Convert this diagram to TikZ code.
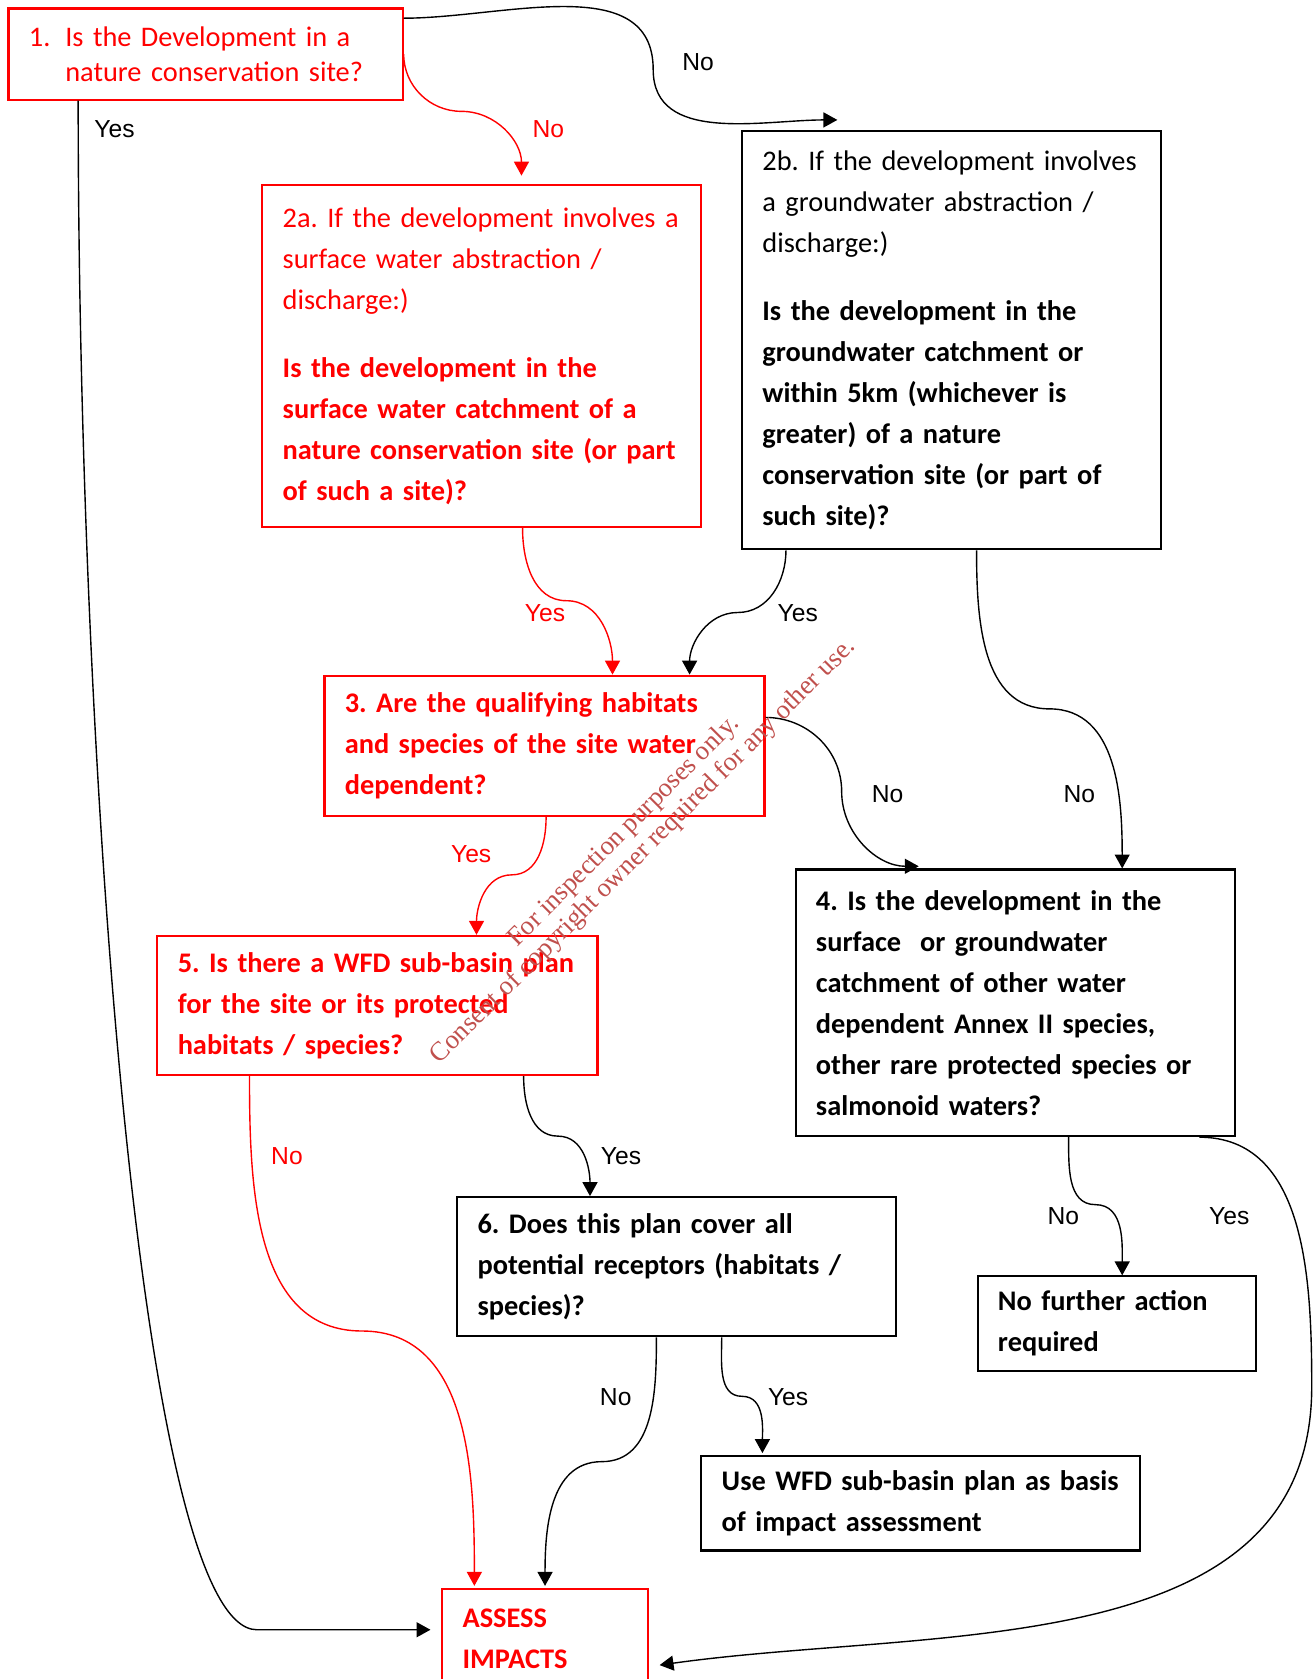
\documentclass[tikz,border=0pt]{standalone}
\usepackage{fontspec}
\setmainfont{Carlito}
\newfontfamily\arialfont{Liberation Sans}
\newfontfamily\wmfont{Liberation Serif}
\usetikzlibrary{shapes,arrows.meta}
\usetikzlibrary{calc}
\definecolor{myred}{RGB}{255, 0, 0}
\definecolor{wmred}{RGB}{192, 80, 77}
\frenchspacing

\begin{document}
\begin{tikzpicture}[x=0.5pt,y=0.5pt]

\tikzstyle{red_block} = [draw=myred, text=myred, line width=1pt, inner xsep=9.5pt, align=left,
font=\fontsize{13.25}{19.15}\selectfont]
\tikzstyle{black_block} = [draw=black, text=black, line width=1pt, inner xsep=9.5pt, align=left,
font=\fontsize{13.25}{19.15}\selectfont]
\tikzstyle{lbl} = [font=\arialfont\fontsize{11.5}{13}\selectfont, inner sep=0pt]
\tikzstyle{arr} = [-{Triangle[length=6.5pt,width=7pt]}, line width=0.65pt]

\useasboundingbox (0,0) rectangle (1228,-1568);
\clip (0,0) rectangle (1228,-1568);

% question boxes
\node [red_block, text width=165pt, minimum height=42.5pt, font=\fontsize{13.25}{16.5}\selectfont] (q1) at (192,-50.5)
{\makebox[17pt][l]{1.}Is the Development in a\\\hspace*{17pt}nature conservation site?};

\node [red_block, text width=186pt, minimum height=159.5pt] (q2a) at (450,-332.5)
{2a. If the development involves a\\surface water abstraction /\\discharge:)\\[12.5pt]
\bfseries Is the development in the\\surface water catchment of a\\nature conservation site (or part\\of such a site)?};

\node [black_block, text width=176.5pt, minimum height=195.5pt] (q2b) at (888.5,-317.5)
{2b. If the development involves\\a groundwater abstraction /\\discharge:)\\[12.5pt]
\bfseries Is the development in the\\groundwater catchment or\\within 5km (whichever is\\greater) of a nature\\conservation site (or part of\\such site)?};

\node [red_block, text width=186.5pt, minimum height=65.5pt] (q3) at (508.5,-696.5)
{\bfseries 3. Are the qualifying habitats\\and species of the site water\\dependent?};

\node [black_block, text width=186pt, minimum height=124.5pt] (q4) at (948,-936.5)
{\bfseries 4. Is the development in the\\surface\ \ or groundwater\\catchment of other water\\dependent Annex II species,\\other rare protected species or\\salmonoid waters?};

\node [red_block, text width=186.5pt, minimum height=65pt] (q5) at (352.5,-939)
{\bfseries 5. Is there a WFD sub-basin plan\\for the site or its protected\\habitats / species?};

\node [black_block, text width=186pt, minimum height=65pt] (q6) at (632,-1183)
{\bfseries 6. Does this plan cover all\\potential receptors (habitats /\\species)?};

% outcomes
\node [black_block, text width=111pt, minimum height=44pt] (qN) at (1043,-1236)
{\bfseries No further action\\required};

\node [black_block, text width=186pt, minimum height=44pt] (qU) at (860,-1404)
{\bfseries Use WFD sub-basin plan as basis\\of impact assessment};

\node [red_block, text width=77pt, minimum height=46pt] (qA) at (509,-1530)
{\bfseries ASSESS\\IMPACTS};

% yes / no labels
\node [lbl] (n1) at (652,-58) {No};
\node [lbl, text=myred] (n1a) at (512,-121) {No};
\node [lbl] (y1) at (107,-121) {Yes};
\node [lbl, text=myred] (y2a) at (509,-573) {Yes};
\node [lbl] (y2b) at (745,-573) {Yes};
\node [lbl] (n3) at (829,-742) {No};
\node [lbl] (n2b) at (1008,-742) {No};
\node [lbl, text=myred] (y3) at (440,-798) {Yes};
\node [lbl, text=myred] (n5) at (268,-1080) {No};
\node [lbl] (y5) at (580,-1080) {Yes};
\node [lbl] (n4) at (993,-1136) {No};
\node [lbl] (y4) at (1148,-1136) {Yes};
\node [lbl] (n6) at (575,-1305) {No};
\node [lbl] (y6) at (736,-1305) {Yes};

% connectors
\draw[arr] ([yshift=-5pt]q1.north east) to[out=0,in=90] (610,-65) to[out=-90,in=180] ([xshift=-53.25pt,yshift=4.5pt]q2b.north);
\draw[arr,myred] (q1.east) to[out=-90,in=180] (431,-104) to[out=0,in=90] ([xshift=18.5pt,yshift=4pt]q2a.north);
\draw[arr] ([xshift=33pt]q1.south west) .. controls +(0,-607) and +(-110,0) .. (240,-1522) -- ([xshift=-5pt,yshift=4pt]qA.west);

\draw[arr,myred] ([xshift=19pt]q2a.south) to[out=-90,in=180] (529,-561) to[out=0,in=90] ([xshift=31.75pt]q3.north);
\draw[arr] ([xshift=-77.25pt]q2b.south) to[out=-90,in=0] (689,-572) to[out=180,in=90] ([xshift=67.75pt]q3.north);
\draw[arr] ([xshift=11.75pt]q2b.south) to[out=-90,in=180] (980,-662) to[out=0,in=90] ([xshift=50pt]q4.north);

\draw[arr] ([yshift=13.25pt]q3.east) to[out=0,in=90] (786,-739) to[out=-90,in=180] ([xshift=-45pt,yshift=1pt]q4.north);
\draw[arr,myred] ([xshift=0.75pt]q3.south) to[out=-90,in=0] (478,-817) to[out=180,in=90] ([xshift=46.25pt]q5.north);

\draw[arr,myred] ([xshift=-59.75pt]q5.south) to[out=-90,in=180] (338,-1243) to[out=0,in=90] ([xshift=-33pt,yshift=1pt]qA.north);
\draw[arr] ([xshift=68.25pt]q5.south) to[out=-90,in=180] (521,-1061) to[out=0,in=90] ([xshift=-40.5pt]q6.north);

\draw[arr] ([xshift=-9.5pt]q6.south) to[out=-90,in=0] (562,-1365) to[out=180,in=90] ([yshift=1pt]qA.north);
\draw[arr] ([xshift=21pt]q6.south) to[out=-90,in=180] (693,-1304) to[out=0,in=90] ([xshift=-74pt,yshift=1pt]qU.north);

\draw[arr] ([xshift=25pt]q4.south) to[out=-90,in=180] (1023,-1125) to[out=0,in=90] ([xshift=2.5pt]qN.north);
\draw[arr] ([xshift=86pt]q4.south) to[out=0,in=90] (1225,-1295) to[out=-90,in=8] ([xshift=5pt,yshift=-12.5pt]qA.east);

% watermark
\node [rotate=45, text=wmred, align=center, inner sep=0pt, font=\wmfont\fontsize{12.5}{13}\selectfont] (wm) at (592,-786)
{For inspection purposes only.\\Consent of copyright owner required for any other use.};

\end{tikzpicture}
\end{document}
